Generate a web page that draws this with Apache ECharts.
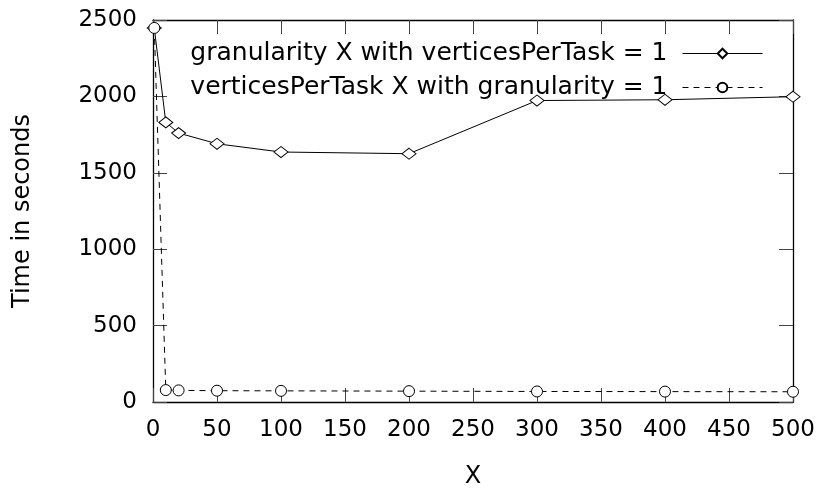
<!DOCTYPE html>
<html>
<head>
<meta charset="utf-8">
<script src="https://cdn.jsdelivr.net/npm/echarts@6/dist/echarts.min.js"></script>
<style>
  html, body {margin: 0; padding: 0; background: #fff;}
  #main {width: 821px; height: 494px;}
</style>
</head>
<body>
<div id="main"></div>
<script>
  var xs = [1, 10, 20, 50, 100, 200, 300, 400, 500];
  var granularity = [2448, 1830, 1760, 1690, 1636, 1625, 1973, 1978, 1998];
  var verticesPerTask = [2448, 78, 76, 74, 73, 71, 69, 68, 67];
  var names = ['granularity X with verticesPerTask = 1', 'verticesPerTask X with granularity = 1'];

  function pairs(ys) {
    return xs.map(function (x, i) { return [x, ys[i]]; });
  }

  var font = 'DejaVu Sans';
  var chart = echarts.init(document.getElementById('main'));
  var tick = {show: true, inside: true, length: 14, lineStyle: {color: '#444', width: 1}};
  var line = {show: true, onZero: false, lineStyle: {color: '#000', width: 1.3}};
  var plain = function (v) { return String(v); };
  var legendBase = {
    orient: 'vertical', align: 'right', right: 53,
    itemWidth: 80, itemHeight: 12, itemGap: 14,
    lineStyle: {width: 1, color: '#000'},
    textStyle: {fontFamily: font, fontSize: 25, color: '#000', padding: [0, 10, 0, 0]}
  };

  chart.setOption({
    animation: false,
    grid: {left: 153, right: 28, top: 20, bottom: 91},
    legend: [
      Object.assign({}, legendBase, {top: 36, data: [names[0]]}),
      Object.assign({}, legendBase, {top: 70, data: [names[1]]})
    ],
    xAxis: [{
      type: 'value', min: 0, max: 500, interval: 50,
      name: 'X', nameLocation: 'middle', nameGap: 63,
      nameTextStyle: {fontFamily: font, fontSize: 24, color: '#000'},
      axisLine: line, axisTick: tick, splitLine: {show: false},
      axisLabel: {fontFamily: font, fontSize: 23, color: '#000', margin: 17, formatter: plain}
    }, {
      type: 'value', position: 'top', min: 0, max: 500, interval: 50,
      axisLine: line, axisTick: tick, splitLine: {show: false}, axisLabel: {show: false}
    }],
    yAxis: [{
      type: 'value', min: 0, max: 2500, interval: 500,
      name: 'Time in seconds', nameLocation: 'middle', nameGap: 118, nameRotate: 90,
      nameTextStyle: {fontFamily: font, fontSize: 24, color: '#000'},
      axisLine: line, axisTick: tick, splitLine: {show: false},
      axisLabel: {fontFamily: font, fontSize: 23, color: '#000', margin: 16, formatter: plain}
    }, {
      type: 'value', position: 'right', min: 0, max: 2500, interval: 500,
      axisLine: line, axisTick: tick, splitLine: {show: false}, axisLabel: {show: false}
    }],
    series: [{
      name: names[0], type: 'line', data: pairs(granularity),
      symbol: 'diamond', symbolSize: [14, 11], showAllSymbol: true,
      lineStyle: {color: '#000', width: 1},
      itemStyle: {color: '#fff', borderColor: '#000', borderWidth: 1}
    }, {
      name: names[1], type: 'line', data: pairs(verticesPerTask),
      symbol: 'circle', symbolSize: 11, showAllSymbol: true,
      lineStyle: {color: '#000', width: 1, type: [6, 5]},
      itemStyle: {color: '#fff', borderColor: '#000', borderWidth: 1}
    }]
  });
</script>
</body>
</html>
